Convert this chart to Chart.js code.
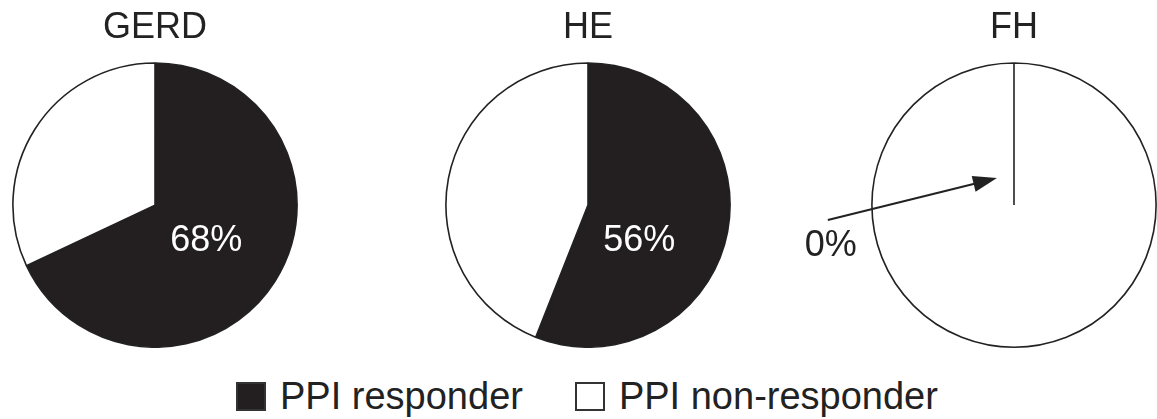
<!DOCTYPE html>
<html>
<head>
<meta charset="utf-8">
<script src="https://cdn.jsdelivr.net/npm/chart.js@4.4.1/dist/chart.umd.min.js"></script>
<style>
  body { margin: 0; background: #fff; width: 1157px; height: 419px; overflow: hidden; position: relative; font-family: "Liberation Sans", Arial, sans-serif; }
  .box { position: absolute; top: 0; height: 348px; }
  #legend { position: absolute; top: 375px; left: 236px; display: flex; align-items: center; font-size: 38px; color: #222; }
  #legend .sw { width: 30px; height: 29px; box-sizing: border-box; border: 2px solid #333; margin-right: 14px; }
  #legend .item { display: flex; align-items: center; margin-right: 52px; }
</style>
</head>
<body>
<div class="box" style="left:12px;width:286px"><canvas id="gerd"></canvas></div>
<div class="box" style="left:445px;width:286px"><canvas id="he"></canvas></div>
<div class="box" style="left:780px;width:377px"><canvas id="fh"></canvas></div>
<div id="legend"></div>

<script>
const groups = ["GERD", "HE", "FH"];
const categories = ["PPI responder", "PPI non-responder"];
const responder = [68, 56, 0];
const nonResponder = [32, 44, 100];
const colors = ["#231f20", "#ffffff"];

const ids = ["gerd", "he", "fh"];

// percentage label: white inside the black slice, or arrow for the empty slice
const pctLabel = {
  id: "pctLabel",
  afterDraw(chart) {
    const ctx = chart.ctx;
    const arc = chart.getDatasetMeta(0).data[0];
    const cx = arc.x, cy = arc.y, r = arc.outerRadius;
    const v = chart.data.datasets[0].data[0];
    ctx.save();
    ctx.font = "36px 'Liberation Sans', Arial, sans-serif";
    ctx.textAlign = "center";
    ctx.textBaseline = "middle";
    if (v > 0) {
      ctx.fillStyle = "#fff";
      ctx.fillText(v + "%", cx + 0.36 * r, cy + 0.25 * r);
    } else {
      ctx.fillStyle = "#222";
      ctx.fillText(v + "%", cx - 1.29 * r, cy + 0.29 * r);
      const x0 = cx - 1.31 * r, y0 = cy + 0.105 * r;
      const x1 = cx - 0.12 * r, y1 = cy - 0.19 * r;
      const a = Math.atan2(y1 - y0, x1 - x0);
      ctx.strokeStyle = "#222";
      ctx.lineWidth = 2;
      ctx.beginPath();
      ctx.moveTo(x0, y0);
      ctx.lineTo(x1 - 20 * Math.cos(a), y1 - 20 * Math.sin(a));
      ctx.stroke();
      ctx.fillStyle = "#222";
      ctx.beginPath();
      ctx.moveTo(x1, y1);
      ctx.lineTo(x1 - 24 * Math.cos(a) + 8 * Math.sin(a), y1 - 24 * Math.sin(a) - 8 * Math.cos(a));
      ctx.lineTo(x1 - 24 * Math.cos(a) - 8 * Math.sin(a), y1 - 24 * Math.sin(a) + 8 * Math.cos(a));
      ctx.closePath();
      ctx.fill();
    }
    ctx.restore();
  }
};

groups.forEach((g, i) => {
  new Chart(document.getElementById(ids[i]), {
    type: "pie",
    data: {
      labels: categories,
      datasets: [{
        data: [responder[i], nonResponder[i]],
        backgroundColor: colors,
        borderColor: "#222",
        borderWidth: 1.6
      }]
    },
    options: {
      responsive: true,
      maintainAspectRatio: false,
      animation: false,
      layout: { padding: { left: ids[i] === "fh" ? 91 : 0 } },
      plugins: {
        legend: { display: false },
        tooltip: { enabled: false },
        title: {
          display: true,
          text: g,
          color: "#222",
          font: { size: 36, family: "'Liberation Sans', Arial, sans-serif", weight: "normal" },
          padding: { top: 6, bottom: 13 }
        }
      }
    },
    plugins: [pctLabel]
  });
});

const legend = document.getElementById("legend");
categories.forEach((c, i) => {
  const item = document.createElement("div");
  item.className = "item";
  item.innerHTML = '<div class="sw" style="background:' + colors[i] + '"></div><span>' + c + '</span>';
  legend.appendChild(item);
});
</script>
</body>
</html>
